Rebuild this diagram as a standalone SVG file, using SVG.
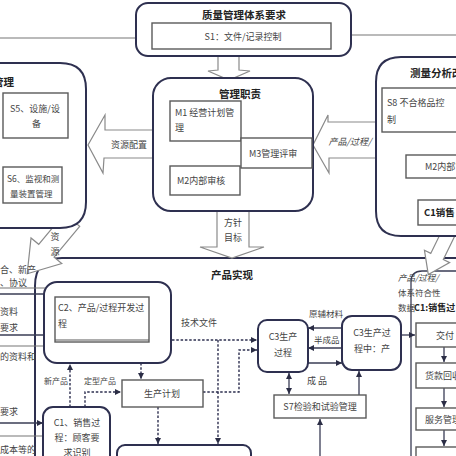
<svg xmlns="http://www.w3.org/2000/svg" width="456" height="456" viewBox="0 0 456 456">
<defs>
<marker id="a" markerWidth="6" markerHeight="6" refX="6" refY="3" orient="auto" markerUnits="userSpaceOnUse"><path d="M0,0 L6,3 L0,6 z" fill="#2b2d45"/></marker>
<marker id="as" markerWidth="6" markerHeight="6" refX="0" refY="3" orient="auto" markerUnits="userSpaceOnUse"><path d="M6,0 L0,3 L6,6 z" fill="#2b2d45"/></marker>
<style>
.big{fill:#fff;stroke:#2e3050;stroke-width:2}
.bo{fill:none;stroke:#2e3050;stroke-width:2}
.in{fill:#fff;stroke:#5a5a5a;stroke-width:1.4}
.blk{fill:#fff;stroke:#8a8a8a;stroke-width:1.2}
.ln{fill:none;stroke:#3a3c55;stroke-width:1.3}
.gl{fill:none;stroke:#777;stroke-width:1.2}
.ds{fill:none;stroke:#2e3050;stroke-width:1.4;stroke-dasharray:2.5,1.8}
text{font-family:"Noto Sans CJK SC","Noto Sans",sans-serif;font-size:9px;fill:#444}
.t{font-weight:bold;font-size:10.5px;fill:#222}
.c{text-anchor:middle}
.it{font-style:italic}
</style>
</defs>
<rect width="456" height="456" fill="#fff"/>

<g id="product">
<path class="bo" d="M35,460 V286 Q35,258 62,258 H460"/>
<text class="t c" x="232" y="279">产品实现</text>
<path class="ln" d="M411,460 V282 Q411,271 422,271 H460"/>
</g>

<g id="connectors">
<line class="gl" x1="0" y1="38" x2="136" y2="38"/>
<line class="gl" x1="351" y1="35" x2="456" y2="35"/>
<polygon class="blk" points="218,56 218,70 208,71 229,80 250,71 239,70 239,56"/>
<polygon class="blk" points="217,211 217,247 200,247 232,258 264,247 249,247 249,211"/>
<polygon class="blk" points="153,130 105,130 105,115 88,145 103,173 104,158 153,158"/>
<polygon class="blk" points="376,122 328,122 328,115 313,145 329,173 329,158 376,158"/>
<polygon class="blk" points="0,-10 40,-10 40,-20 70,0 40,20 40,10 0,10" transform="translate(72,220) rotate(129.8)"/>
<polygon class="blk" points="0,-7 25,-7 25,-14 45,0 25,14 25,7 0,7" transform="translate(448,234) rotate(116)"/>
<path class="ln" d="M381,134 V160 Q381,172 392,172 H404" marker-end="url(#a)"/>
<line class="gl" x1="0" y1="288" x2="45" y2="288"/>
<line class="ln" x1="0" y1="294" x2="55" y2="294" marker-end="url(#a)"/>
<line class="ln" x1="0" y1="335" x2="55" y2="335" marker-end="url(#a)"/>
<line class="gl" x1="0" y1="346" x2="52" y2="346"/>
<line class="ln" x1="0" y1="423" x2="43" y2="423" marker-end="url(#a)"/>
<line class="gl" x1="0" y1="436" x2="43" y2="436"/>
<line class="ds" x1="70" y1="407" x2="70" y2="364" marker-end="url(#a)"/>
<path class="ds" d="M85,407 V392 H121" marker-end="url(#a)"/>
<line class="ds" x1="141" y1="363" x2="141" y2="379" marker-end="url(#a)"/>
<line class="ds" x1="172" y1="340" x2="257" y2="340" marker-end="url(#a)"/>
<line class="ds" x1="218" y1="340" x2="218" y2="444" marker-end="url(#a)"/>
<path class="ds" d="M203,392 H239 V350 H257" marker-end="url(#a)"/>
<line class="ds" x1="158" y1="407" x2="158" y2="444" marker-end="url(#a)"/>
<line class="ln" x1="342" y1="328" x2="308" y2="328" marker-end="url(#a)"/>
<line class="ln" x1="342" y1="348" x2="308" y2="348" marker-end="url(#a)"/>
<line class="ln" x1="308" y1="363" x2="342" y2="363" marker-end="url(#a)"/>
<line class="ln" x1="289" y1="373" x2="289" y2="394" marker-end="url(#a)" marker-start="url(#as)"/>
<line class="ln" x1="359" y1="395" x2="359" y2="371" marker-end="url(#a)"/>
<line class="ln" x1="320" y1="456" x2="320" y2="419" marker-end="url(#a)"/>
<line class="ln" x1="401" y1="335" x2="415" y2="335" marker-end="url(#a)"/>
<line class="ln" x1="444" y1="347" x2="444" y2="362" marker-end="url(#a)"/>
<line class="ln" x1="444" y1="388" x2="444" y2="407" marker-end="url(#a)"/>
<line class="ln" x1="444" y1="430" x2="444" y2="446" marker-end="url(#a)"/>
</g>

<g id="top">
<rect class="big" x="136" y="3" width="215" height="53" rx="12"/>
<text class="t c" x="244" y="19">质量管理体系要求</text>
<rect class="in" x="152" y="23" width="179" height="26"/>
<text class="c" x="243" y="40">S1：文件/记录控制</text>
</g>

<g id="mgmt">
<rect class="big" x="153" y="78" width="160" height="133" rx="18"/>
<text class="t c" x="240" y="98">管理职责</text>
<rect class="in" x="170" y="101" width="71" height="40"/>
<text x="175" y="116">M1 经营计划管</text>
<text x="175" y="131">理</text>
<rect class="in" x="241" y="138" width="71" height="30"/>
<text x="249" y="157">M3管理评审</text>
<rect class="in" x="170" y="166" width="70" height="29"/>
<text x="177" y="184">M2内部审核</text>
</g>

<g id="resource">
<path class="big" d="M-5,63 H60 Q86,63 86,89 V202 Q86,228 60,228 H-5"/>
<text class="t" x="-28" y="86">资源管理</text>
<rect class="in" x="3" y="93" width="65" height="45"/>
<text x="10" y="112">S5、设施/设</text>
<text x="32" y="127">备</text>
<rect class="in" x="3" y="167" width="59" height="36"/>
<text x="7" y="182" style="font-size:8.5px">S6、监视和测</text>
<text x="10" y="197" style="font-size:8.5px">量装置管理</text>
</g>

<g id="measure">
<path class="big" d="M461,57 H401 Q376,57 376,82 V211 Q376,236 401,236 H461"/>
<text class="t" x="410" y="77">测量分析改进</text>
<rect class="in" x="382" y="88" width="80" height="44"/>
<text x="387" y="106">S8 不合格品控</text>
<text x="387" y="123">制</text>
<rect class="in" x="406" y="155" width="60" height="23"/>
<text x="425" y="170">M2内部审核</text>
<rect class="in" x="418" y="200" width="50" height="25"/>
<text class="t" x="424" y="216" style="font-size:9.5px">C1销售</text>
</g>

<g id="c2">
<rect class="big" x="44" y="282" width="127" height="81" rx="13"/>
<rect class="in" x="55" y="297" width="94" height="45"/>
<line x1="55" y1="340" x2="149" y2="340" stroke="#5a5a5a" stroke-width="1.2"/>
<text x="58" y="311">C2、产品/过程开发过</text>
<text x="58" y="327">程</text>
</g>

<g id="c1">
<rect class="big" x="43" y="407" width="67" height="60" rx="10"/>
<text class="c" x="77" y="426">C1、销售过</text>
<text class="c" x="77" y="441">程：顾客要</text>
<text class="c" x="77" y="456">求识别</text>
</g>

<g id="plan">
<rect class="in" x="122" y="380" width="81" height="27"/>
<text class="c" x="162" y="397">生产计划</text>
</g>

<g id="bottom-box">
<rect class="big" x="117" y="445" width="134" height="30" rx="8"/>
</g>

<g id="c3a">
<rect class="big" x="258" y="320" width="50" height="52" rx="9"/>
<text class="c" x="283" y="340">C3生产</text>
<text class="c" x="283" y="356">过程</text>
</g>

<g id="c3b">
<rect class="big" x="342" y="316" width="59" height="54" rx="10"/>
<text class="c" x="372" y="336">C3生产过</text>
<text class="c" x="372" y="352">程中：产</text>
</g>

<g id="s7">
<rect class="in" x="274" y="395" width="92" height="23"/>
<text class="c" x="320" y="410">S7检验和试验管理</text>
</g>

<g id="delivery">
<rect class="in" x="416" y="323" width="60" height="24"/>
<text x="436" y="339">交付</text>
<rect class="in" x="416" y="363" width="60" height="25"/>
<text x="425" y="379">货款回收</text>
<rect class="in" x="416" y="408" width="60" height="22"/>
<text x="425" y="423">服务管理</text>
<rect class="in" x="416" y="447" width="60" height="20"/>
</g>

<g id="labels">
<text class="c" x="129" y="148">资源配置</text>
<text class="c it" x="350" y="145">产品/过程/</text>
<text class="c" x="233" y="226">方针</text>
<text class="c" x="233" y="241">目标</text>
<text class="c" x="55" y="240">资</text>
<text class="c" x="55" y="255">源</text>
<text x="0" y="273">合、新产</text>
<text x="0" y="286">、协议</text>
<text x="0" y="315">资料</text>
<text x="0" y="331">要求</text>
<text x="0" y="360">的资料和</text>
<text x="0" y="415">要求</text>
<text x="0" y="453">成本等的</text>
<text x="44" y="384" style="font-size:8px">新产品</text>
<text x="84" y="384" style="font-size:8px">定型产品</text>
<text x="181" y="326">技术文件</text>
<text x="309" y="317" style="font-size:8.5px">原辅材料</text>
<text x="314" y="343" style="font-size:8.5px">半成品</text>
<text x="307" y="384">成 品</text>
<text class="it" x="398" y="281" style="font-size:8.5px">产品/过程/</text>
<text x="398" y="296" style="font-size:8.5px">体系符合性</text>
<text x="398" y="311" style="font-size:8.5px">数据</text>
<text class="t" x="414" y="311" style="font-size:9px">C1:销售过</text>
</g>
</svg>
